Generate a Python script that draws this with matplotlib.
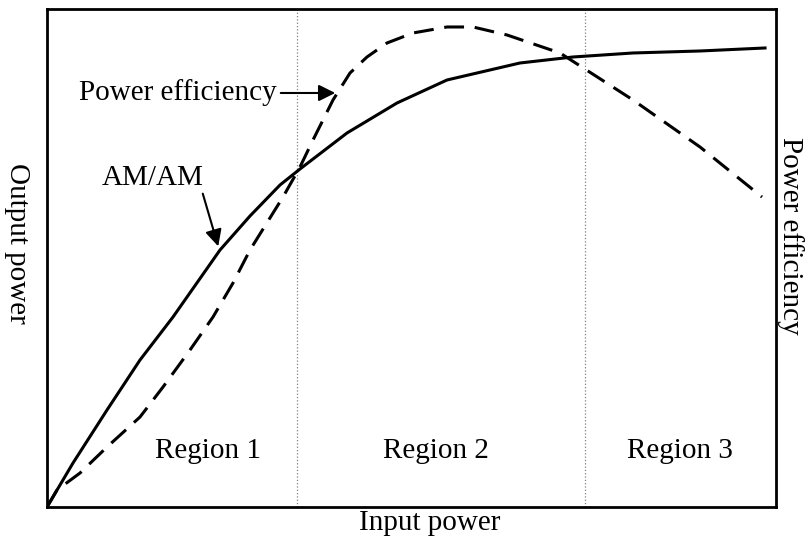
import numpy as np
import matplotlib
matplotlib.use("Agg")
import matplotlib.pyplot as plt

plt.rcParams['font.family'] = ['Liberation Serif', 'DejaVu Serif']

# curves (x: input power, y: output / efficiency, arbitrary units)
am_x = [0, 26, 60, 93, 126, 173, 203, 233, 253, 300, 350, 400, 473, 526, 586, 653, 718]
am_y = [0, 44, 97, 147, 190, 257, 291, 322, 338, 374, 404, 427, 444, 450, 454, 456, 459]

eff_x = [0, 10, 33, 60, 93, 116, 143, 166, 186, 203, 236, 253, 266, 286, 303, 320, 340,
         366, 400, 426, 460, 513, 586, 653, 715]
eff_y = [0, 17, 34, 60, 90, 120, 157, 190, 224, 257, 310, 340, 367, 407, 434, 450, 464,
         474, 480, 480, 472, 454, 407, 360, 310]

region_x = [250, 538]
region_labels = ['Region 1', 'Region 2', 'Region 3']
region_label_x = [161, 389, 633]

fig = plt.figure(figsize=(8.06, 5.41), dpi=100)
ax = fig.add_axes([0.0583, 0.0628, 0.9045, 0.9206])
ax.set_xlim(0, 729)
ax.set_ylim(0, 498)
ax.set_xticks([])
ax.set_yticks([])
for s in ax.spines.values():
    s.set_linewidth(2.0)

for rx in region_x:
    ax.axvline(rx, color='gray', linestyle=':', linewidth=0.9)

ax.plot(am_x, am_y, color='black', linewidth=2.2, solid_joinstyle='round')
ax.plot(eff_x, eff_y, color='black', linewidth=2.2, dashes=(6.5, 3.5),
        dash_joinstyle='round')

for lx, lab in zip(region_label_x, region_labels):
    ax.text(lx, 56, lab, ha='center', va='center', fontsize=21)

# annotations
ax.text(230, 414, 'Power efficiency', ha='right', va='center', fontsize=21)
ax.annotate('', xy=(291, 414), xytext=(231, 414),
            arrowprops=dict(arrowstyle='-|>', color='black', lw=1.5, mutation_scale=25))
ax.text(106, 329, 'AM/AM', ha='center', va='center', fontsize=21)
ax.annotate('', xy=(172, 258), xytext=(155, 316),
            arrowprops=dict(arrowstyle='-|>', color='black', lw=1.5, mutation_scale=25))

fig.text(430 / 806, 1 - 523 / 541, 'Input power', ha='center', va='center', fontsize=21)
fig.text(17 / 806, 1 - 243 / 541, 'Output power', ha='center', va='center',
         rotation=270, fontsize=21)
fig.text(790 / 806, 1 - 236 / 541, 'Power efficiency', ha='center', va='center',
         rotation=270, fontsize=21)

fig.savefig('out.png', dpi=100)
